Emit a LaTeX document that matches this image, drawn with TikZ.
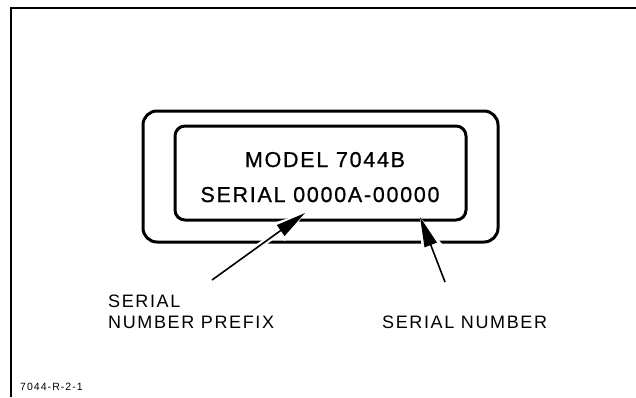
\documentclass[tikz,border=0pt]{standalone}
\usepackage{fontspec}
\setmainfont{Liberation Sans}
\newfontfamily\platefont[LetterSpace=8,FakeBold=0.8]{Liberation Sans}
\newfontfamily\labelfont[LetterSpace=9]{Liberation Sans}
\newfontfamily\tagfont[LetterSpace=10]{Liberation Sans}
\usetikzlibrary{arrows.meta,calc}
\begin{document}
\begin{tikzpicture}[x=1pt,y=-1pt,
  frameline/.style={line width=2pt},
  boxline/.style={line width=3pt},
  plate/.style={font=\platefont\fontsize{21.5}{24}\selectfont, inner sep=0pt, anchor=base},
  lbl/.style={font=\labelfont\fontsize{18}{21}\selectfont, inner sep=0pt, anchor=base west},
  tag/.style={font=\tagfont\fontsize{10.5}{12}\selectfont, inner sep=0pt, anchor=base west},
  halo/.style={white, line width=6pt, -{Triangle[length=34pt,width=20pt]}},
  pointer/.style={line width=1.6pt, -{Triangle[length=30pt,width=13pt]}}]
\useasboundingbox (0,0) rectangle (636,397);
% frame
\draw[frameline] (11,397) -- (11,8) -- (640,8);
% plate
\draw[boxline, rounded corners=14pt] (143,111) rectangle (498,242);
\draw[boxline, rounded corners=10pt] (175,126) rectangle (466,220);
\node[plate] (model) at (325,167) {MODEL 7044B};
\node[plate] (serial) at (320,202) {SERIAL 0000A-00000};
% labels
\node[lbl] (prefixA) at (108,307) {SERIAL};
\node[lbl] (prefixB) at (108,328) {NUMBER PREFIX};
\node[lbl] (number) at (382,328) {SERIAL NUMBER};
\node[tag] (figtag) at (20,390) {7044-R-2-1};
% arrows
\coordinate (ptail) at (212,280);
\coordinate (ptip) at (305,213);
\coordinate (ntail) at (445,282);
\coordinate (ntip) at (420,217);
\draw[halo, shorten >=-1pt] ($(ptail)!0.5!(ptip)$) -- (ptip);
\draw[halo, shorten >=-1pt] ($(ntail)!0.5!(ntip)$) -- (ntip);
\draw[pointer] (ptail) -- (ptip);
\draw[pointer] (ntail) -- (ntip);
\end{tikzpicture}
\end{document}
